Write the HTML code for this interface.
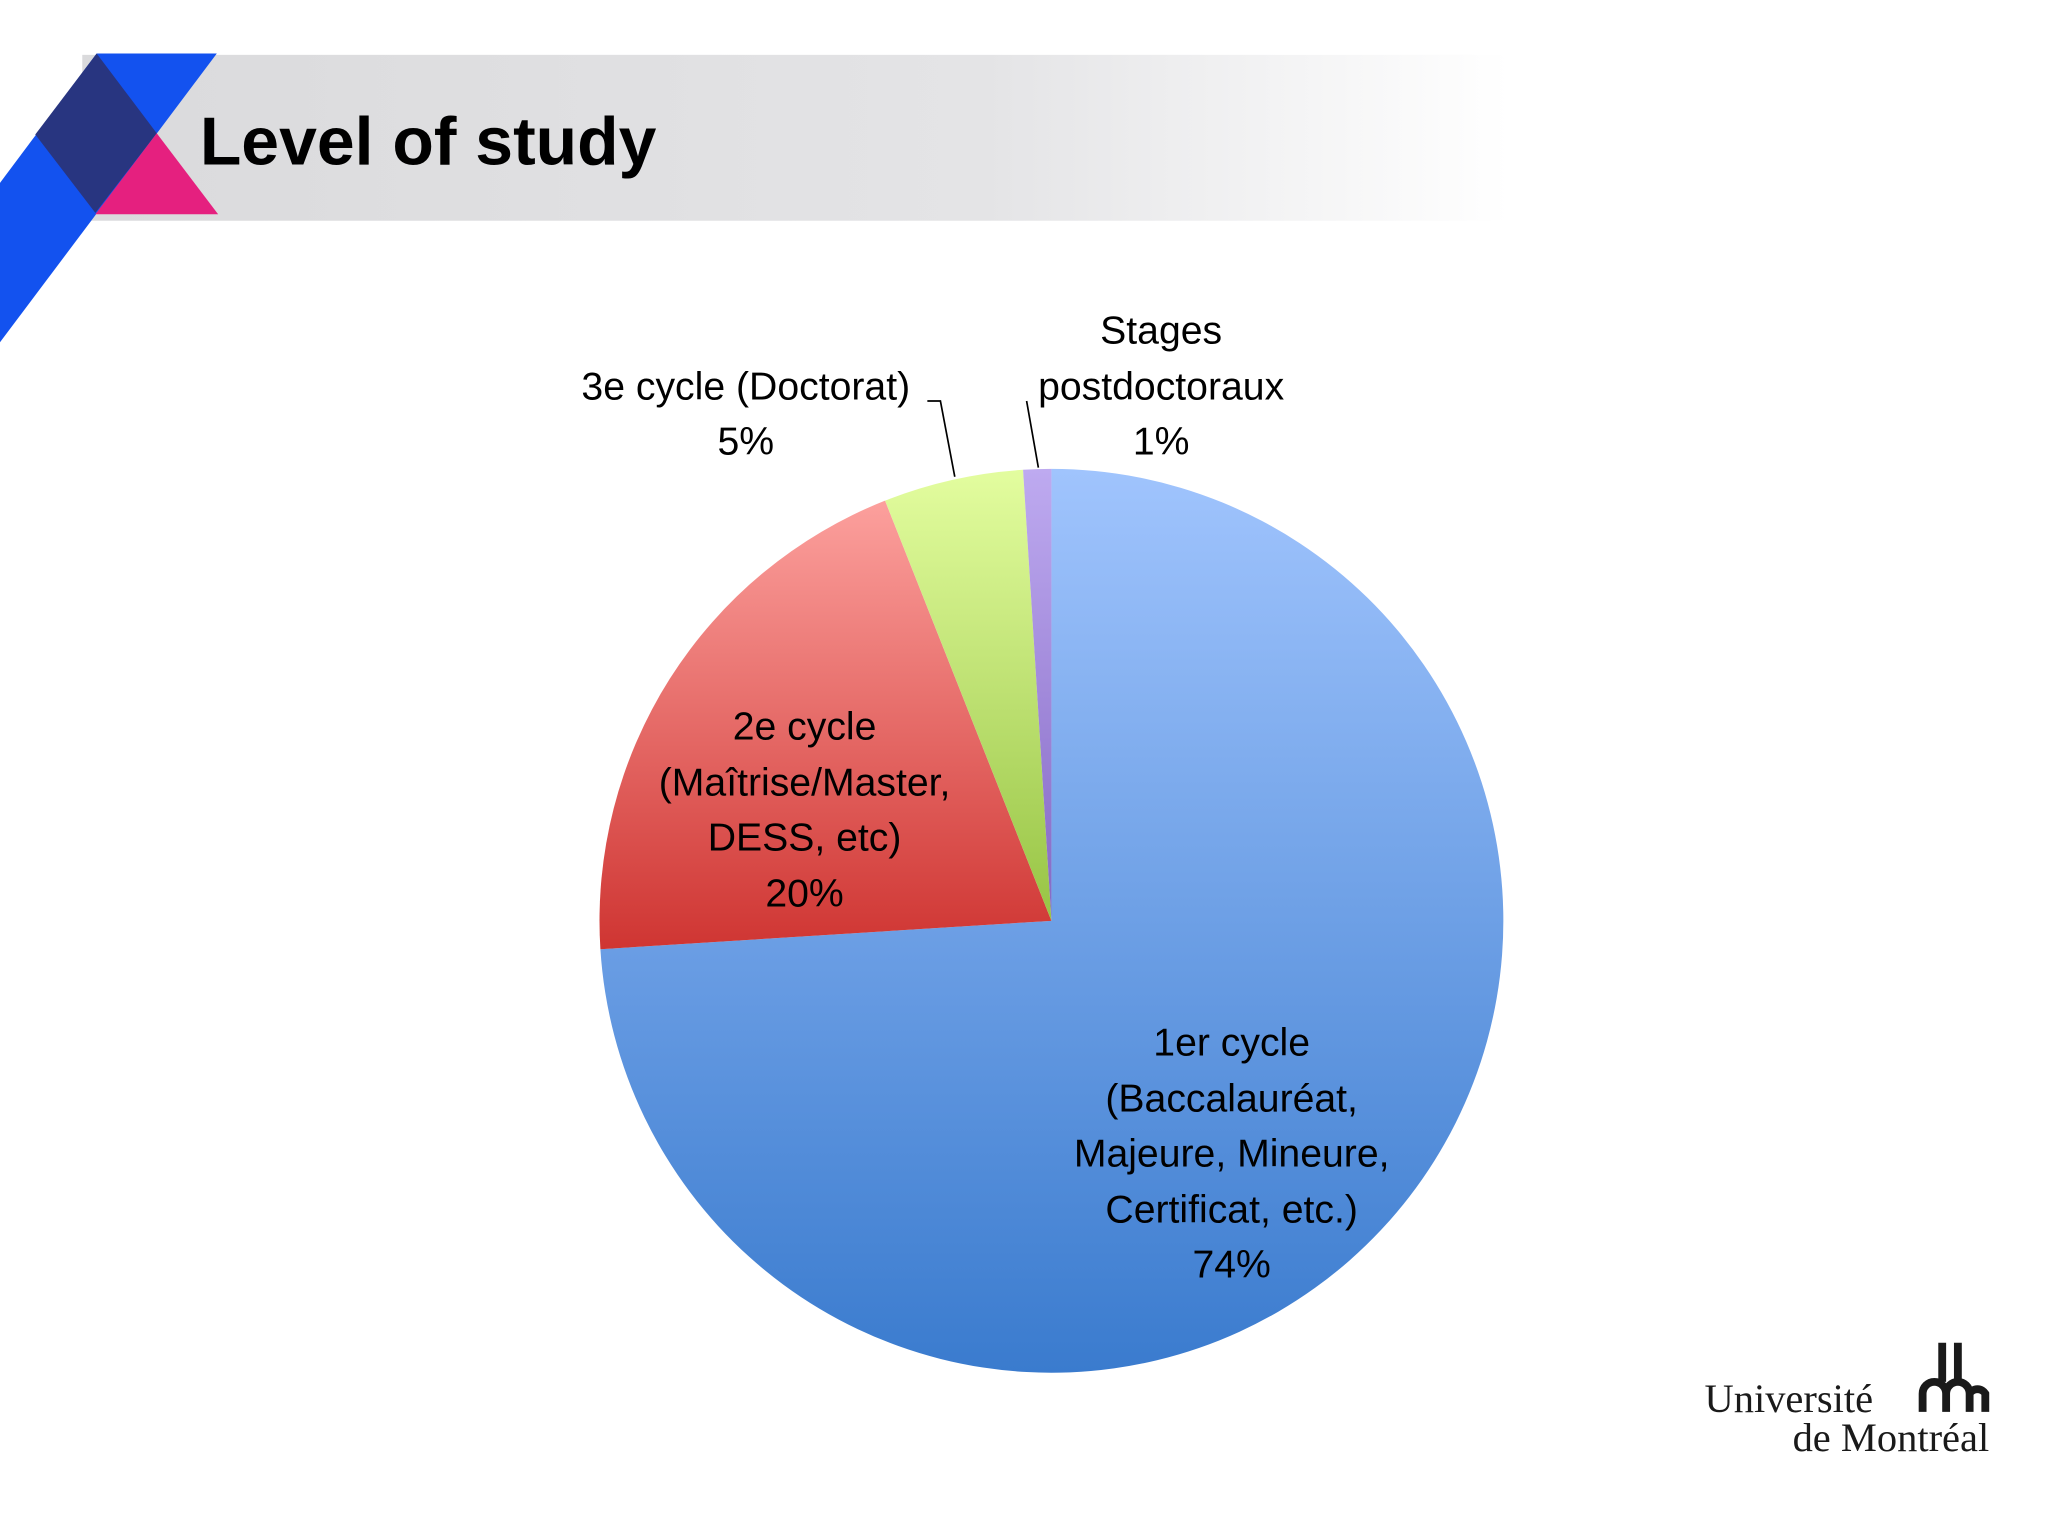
<!DOCTYPE html>
<html><head><meta charset="utf-8">
<style>
html,body{margin:0;padding:0;background:#fff;}
svg{display:block;}
text{font-family:"Liberation Sans",sans-serif;}
text.serif{font-family:"Liberation Serif",serif;}
</style></head>
<body>
<svg id="chart" width="2048" height="1536" viewBox="0 0 1568 1176" xmlns="http://www.w3.org/2000/svg">
<defs>
<linearGradient id="hdr" x1="0" x2="1" y1="0" y2="0">
<stop offset="0" stop-color="#dadadc"/><stop offset="0.6" stop-color="#e4e4e6"/><stop offset="0.95" stop-color="#ffffff"/>
</linearGradient>
<linearGradient id="g0" x1="0" x2="0" y1="0" y2="1"><stop offset="0" stop-color="#a0c4fd"/><stop offset="1" stop-color="#3a7bce"/></linearGradient>
<linearGradient id="g1" x1="0" x2="0" y1="0" y2="1"><stop offset="0" stop-color="#fca09d"/><stop offset="1" stop-color="#cf3532"/></linearGradient>
<linearGradient id="g2" x1="0" x2="0" y1="0" y2="1"><stop offset="0" stop-color="#e3fd9f"/><stop offset="1" stop-color="#97c444"/></linearGradient>
<linearGradient id="g3" x1="0" x2="0" y1="0" y2="1"><stop offset="0" stop-color="#beaaf0"/><stop offset="1" stop-color="#8468c4"/></linearGradient>
</defs>
<rect x="63" y="42" width="1150" height="127" fill="url(#hdr)"/>
<polygon points="74,41 166,41 0,262 0,140" fill="#1352ef"/>
<polygon points="74,41 120,102 73,163 27,103" fill="#283580"/>
<polygon points="120,102 167,164 73,164" fill="#e5207f"/>
<text x="153" y="126" font-size="52" font-weight="bold" fill="#000">Level of study</text>
<g id="pie"></g>
<g stroke="#000" stroke-width="1.3" fill="none">
<polyline points="710,307 720,307 731,365"/>
<polyline points="786,307 795,358"/>
</g>
<g font-size="30" fill="#000" text-anchor="middle">
<g><text x="571" y="306">3e cycle (Doctorat)</text><text x="571" y="348">5%</text></g>
<g><text x="889" y="263">Stages</text><text x="889" y="306">postdoctoraux</text><text x="889" y="348">1%</text></g>
<g><text x="616" y="566">2e cycle</text><text x="616" y="609">(Maîtrise/Master,</text><text x="616" y="651">DESS, etc)</text><text x="616" y="694">20%</text></g>
<g><text x="943" y="808">1er cycle</text><text x="943" y="851">(Baccalauréat,</text><text x="943" y="893">Majeure, Mineure,</text><text x="943" y="936">Certificat, etc.)</text><text x="943" y="978">74%</text></g>
</g>
<g>
<text class="serif" x="1305" y="1081" font-size="31" fill="#1a1a1a">Université</text>
<text class="serif" x="1523" y="1111" text-anchor="end" font-size="31" fill="#1a1a1a">de Montréal</text>
<path d="M1487,1028v30 M1499,1028v30" stroke="#1a1a1a" stroke-width="6" fill="none"/>
<path d="M1472,1081v-14a9,9 0 0 1 18,0v14 M1490,1067a9,9 0 0 1 18,0v14 M1508,1067a7,7 0 0 1 12,0v14" stroke="#1a1a1a" stroke-width="6" fill="none"/>
</g>
</svg>
<script>
const categories = ["1er cycle","2e cycle","3e cycle","Stages postdoctoraux"];
const values = [74, 20, 5, 1];
const fills = ["url(#g0)","url(#g1)","url(#g2)","url(#g3)"];
const cx = 805, cy = 705, r = 346;
const total = values.reduce((a,b)=>a+b,0);
function pt(frac){const a = frac*2*Math.PI; return [cx + r*Math.sin(a), cy - r*Math.cos(a)];}
const g = document.getElementById('pie');
let acc = 0;
values.forEach((v,i)=>{
  const s = acc/total, e = (acc+v)/total; acc += v;
  const [x1,y1] = pt(s), [x2,y2] = pt(e);
  const large = (e-s) > 0.5 ? 1 : 0;
  const p = document.createElementNS('http://www.w3.org/2000/svg','path');
  p.setAttribute('d', `M${cx},${cy}L${x1},${y1}A${r},${r} 0 ${large} 1 ${x2},${y2}Z`);
  p.setAttribute('fill', fills[i]);
  
  
  g.appendChild(p);
});
</script>
</body></html>
